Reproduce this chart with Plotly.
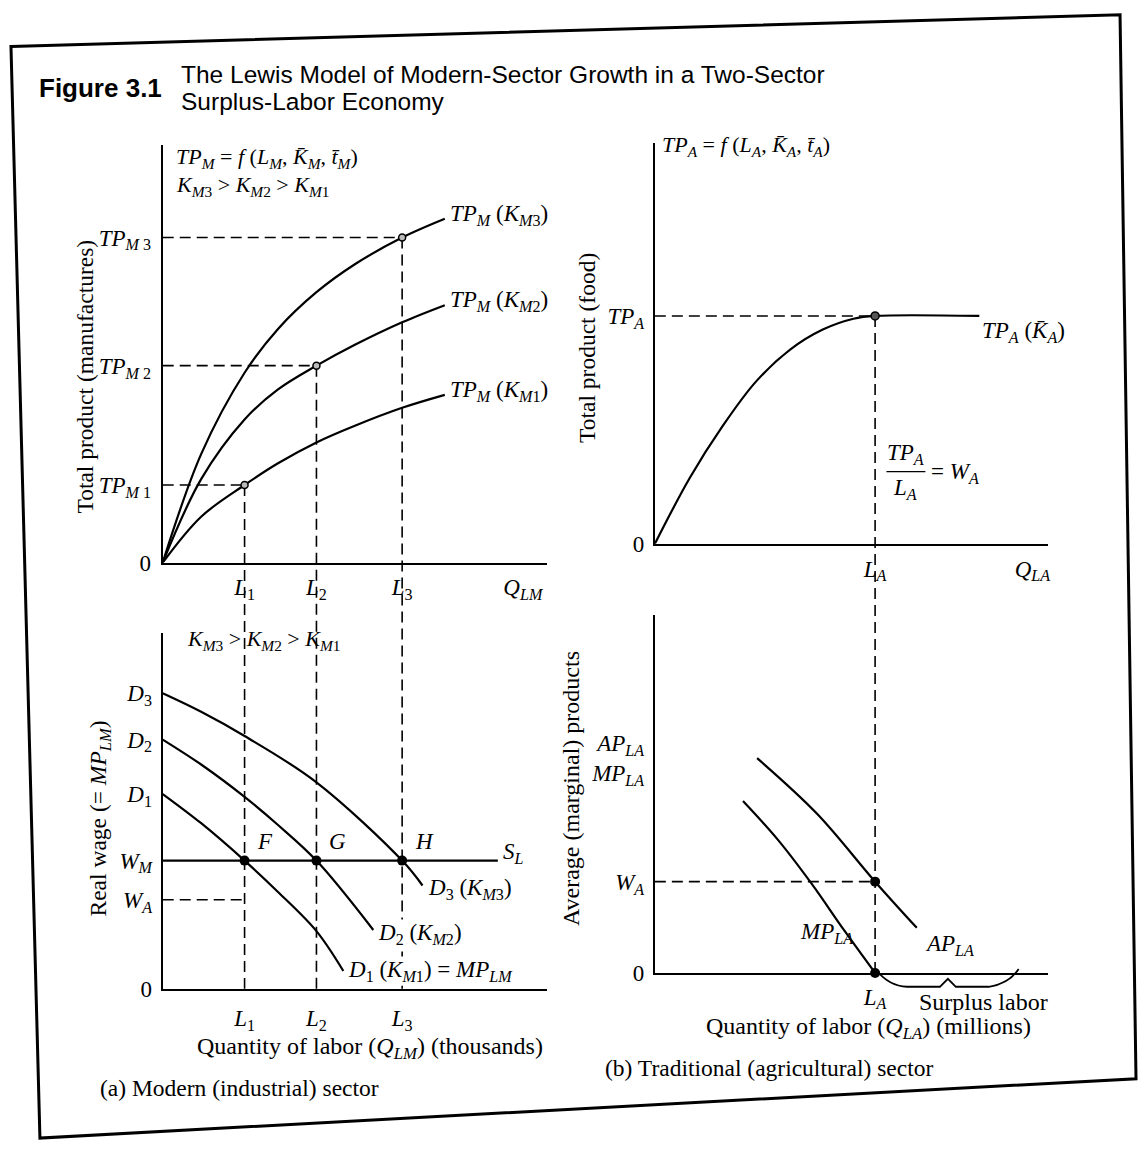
import plotly.graph_objects as go

W, H = 1142, 1155
SERIF = "Liberation Serif"
SANS = "Liberation Sans"

def px(x):
    return x / W

def py(y):
    return 1 - y / H

# ---------------- data ----------------
# (a) top: total product of manufactures for three capital stocks
L_M = [2.13, 4.0, 6.23]                    # L1, L2, L3
L_M_labels = ["<i>L</i><sub>1</sub>", "<i>L</i><sub>2</sub>", "<i>L</i><sub>3</sub>"]
TP_M_levels = [1.86, 4.72, 7.79]           # TP_M1, TP_M2, TP_M3
TP_M_labels = ["<i>TP</i><sub><i>M</i> 1</sub>", "<i>TP</i><sub><i>M</i> 2</sub>", "<i>TP</i><sub><i>M</i> 3</sub>"]
Q_LM_pos = 9.37

tp_k1_x = [0, 1.0, 2.13, 3.0, 4.0, 5.0, 6.23, 7.34]
tp_k1_y = [0, 1.1, 1.86, 2.38, 2.88, 3.28, 3.71, 4.02]
tp_k2_x = [0, 1.0, 2.13, 3.0, 4.0, 5.0, 6.23, 7.34]
tp_k2_y = [0, 2.0, 3.43, 4.15, 4.72, 5.22, 5.76, 6.17]
tp_k3_x = [0, 1.0, 2.13, 3.0, 4.0, 5.0, 6.23, 7.34]
tp_k3_y = [0, 2.6, 4.55, 5.6, 6.48, 7.15, 7.79, 8.24]

# (a) bottom: labour demand curves and wages
d3_x = [0, 1.0, 2.13, 4.0, 6.23, 6.76]
d3_y = [8.3, 7.78, 7.1, 5.8, 3.6, 2.9]
d2_x = [0, 1.0, 2.13, 3.0, 4.0, 5.48]
d2_y = [7.0, 6.3, 5.39, 4.6, 3.6, 1.65]
d1_x = [0, 1.0, 2.13, 3.0, 4.0, 4.7]
d1_y = [5.47, 4.65, 3.6, 2.72, 1.62, 0.5]
W_M = 3.6
W_A_left = 2.5
S_L_end = 8.72

# (b) top: total product of food
L_A = 5.6
TP_A = 5.69
Q_LA_pos = 9.6
ta_x = [0, 0.89, 1.73, 2.57, 3.44, 4.27, 5.05, 5.6, 8.25]
ta_y = [0, 1.65, 2.95, 4.05, 4.85, 5.35, 5.62, 5.69, 5.69]

# (b) bottom: average and marginal products
ap_x = [2.6, 4.13, 5.6, 6.66]
ap_y = [6.0, 4.44, 2.55, 1.26]
mp_x = [2.24, 3.12, 3.98, 4.82, 5.6]
mp_y = [4.8, 3.73, 2.5, 1.18, 0]
W_A_right = 2.55
APMP_label_pos = 6.0
surplus_end = 9.25

# ---------------- layout geometry (reference pixels) ----------------
TL = dict(x=(163, 548), y=(569, 147))
BL = dict(x=(163, 548), y=(1000, 640))
TR = dict(x=(656, 1050), y=(550, 145))
BR = dict(x=(656, 1050), y=(984, 622))
RNG = [0, 10]

def val_to_py(v, panel):
    y0, y1 = panel["y"]
    return py(y0 + (v - RNG[0]) / (RNG[1] - RNG[0]) * (y1 - y0))

def val_to_px(v, panel):
    x0, x1 = panel["x"]
    return x0 + (v - RNG[0]) / (RNG[1] - RNG[0]) * (x1 - x0)

fig = go.Figure()

CURVE = dict(color="black", width=2.2)
DASH = dict(color="black", width=1.6, dash="11px,6px")

def line(x, y, ax, style=CURVE, shape="spline"):
    ln = dict(**style, shape=shape)
    if shape == "spline":
        ln["smoothing"] = 1.0
    fig.add_trace(go.Scatter(x=x, y=y, mode="lines", line=ln,
                             xaxis=ax[0], yaxis=ax[1], hoverinfo="skip", showlegend=False))

def dots(x, y, ax, size=9, fill="black", lw=0):
    fig.add_trace(go.Scatter(x=x, y=y, mode="markers", cliponaxis=False,
                             marker=dict(size=size, color=fill, line=dict(color="black", width=lw)),
                             xaxis=ax[0], yaxis=ax[1], hoverinfo="skip", showlegend=False))

# ---- panel (a) top
A1 = ("x", "y")
for lv, lx in zip(TP_M_levels, L_M):
    line([0, lx], [lv, lv], A1, DASH, "linear")
line(tp_k1_x, tp_k1_y, A1)
line(tp_k2_x, tp_k2_y, A1)
line(tp_k3_x, tp_k3_y, A1)
dots(L_M, TP_M_levels, A1, size=7, fill="#bbbbbb", lw=1.5)

# ---- panel (a) bottom
A2 = ("x2", "y2")
line([0, L_M[0]], [W_A_left, W_A_left], A2, DASH, "linear")
line([0, S_L_end], [W_M, W_M], A2, CURVE, "linear")
line(d3_x, d3_y, A2)
line(d2_x, d2_y, A2)
line(d1_x, d1_y, A2)
dots(L_M, [W_M] * 3, A2, size=10)

# ---- panel (b) top
B1 = ("x3", "y3")
line([0, L_A], [TP_A, TP_A], B1, DASH, "linear")
line(ta_x, ta_y, B1)
dots([L_A], [TP_A], B1, size=8, fill="#555555", lw=1.5)

# ---- panel (b) bottom
B2 = ("x4", "y4")
line([0, L_A], [W_A_right, W_A_right], B2, DASH, "linear")
line(ap_x, ap_y, B2)
line(mp_x, mp_y, B2)
dots([L_A, L_A], [W_A_right, 0], B2, size=10)

# ---------------- axes ----------------
TICKFONT = dict(family=SERIF, size=23, color="black")

def axis(domain, anchor, tickvals, ticktext, standoff=5):
    return dict(domain=domain, anchor=anchor, range=RNG, showline=True, linecolor="black",
                linewidth=2.2, showgrid=False, zeroline=False, ticks="", tickvals=tickvals,
                ticktext=ticktext, tickfont=TICKFONT, fixedrange=True, ticklabelstandoff=standoff)

fig.update_layout(
    xaxis=axis([px(TL["x"][0]), px(TL["x"][1])], "y", L_M + [Q_LM_pos],
               L_M_labels + ["<i>Q</i><sub><i>LM</i></sub>"], 3),
    yaxis=axis([py(TL["y"][0]), py(TL["y"][1])], "x", [0] + TP_M_levels, ["0"] + TP_M_labels, 5),
    xaxis2=axis([px(BL["x"][0]), px(BL["x"][1])], "y2", L_M, L_M_labels, 8),
    yaxis2=axis([py(BL["y"][0]), py(BL["y"][1])], "x2",
                [0, W_A_left, W_M, d1_y[0], d2_y[0], d3_y[0]],
                ["0", "<i>W</i><sub><i>A</i></sub>", "<i>W</i><sub><i>M</i></sub>",
                 "<i>D</i><sub>1</sub>", "<i>D</i><sub>2</sub>", "<i>D</i><sub>3</sub>"], 4),
    xaxis3=axis([px(TR["x"][0]), px(TR["x"][1])], "y3", [L_A, Q_LA_pos],
                ["<i>L</i><sub><i>A</i></sub>", "<i>Q</i><sub><i>LA</i></sub>"], 3),
    yaxis3=axis([py(TR["y"][0]), py(TR["y"][1])], "x3", [0, TP_A],
                ["0", "<i>TP</i><sub><i>A</i></sub>"], 4),
    xaxis4=axis([px(BR["x"][0]), px(BR["x"][1])], "y4", [L_A], ["<i>L</i><sub><i>A</i></sub>"], 2),
    yaxis4=axis([py(BR["y"][0]), py(BR["y"][1])], "x4", [0, W_A_right, APMP_label_pos],
                ["0", "<i>W</i><sub><i>A</i></sub>",
                 "<i>AP</i><sub><i>LA</i></sub><br><i>MP</i><sub><i>LA</i></sub>"], 4),
)

# ---------------- shapes ----------------
shapes = []
# vertical dashed connectors running from the top panels down into the bottom panels
for lx, lv in zip(L_M, TP_M_levels):
    shapes.append(dict(type="line", xref="x", yref="paper", x0=lx, x1=lx,
                       y0=val_to_py(lv, TL), y1=val_to_py(0, BL), line=DASH, layer="below"))
shapes.append(dict(type="line", xref="x3", yref="paper", x0=L_A, x1=L_A,
                   y0=val_to_py(TP_A, TR), y1=val_to_py(0, BR), line=DASH, layer="below"))

# fraction bar for TP_A / L_A
shapes.append(dict(type="line", xref="paper", yref="paper", x0=px(888), x1=px(927),
                   y0=py(477), y1=py(477), line=dict(color="black", width=1.3)))

# surplus labour brace under the axis
bx0 = val_to_px(L_A, BR) + 2
bx1 = val_to_px(surplus_end, BR)
bm = (bx0 + bx1) / 2
pts = [(bx0, 982), (bx0 + 12, 997), (bx0 + 30, 998), (bm - 8, 998), (bm, 990),
       (bm + 8, 998), (bx1 - 30, 998), (bx1 - 10, 995), (bx1, 980)]
path = "M {:.5f},{:.5f} Q {:.5f},{:.5f} {:.5f},{:.5f} L {:.5f},{:.5f} L {:.5f},{:.5f} L {:.5f},{:.5f} L {:.5f},{:.5f} Q {:.5f},{:.5f} {:.5f},{:.5f}".format(
    px(pts[0][0]), py(pts[0][1]), px(pts[1][0]), py(pts[1][1]), px(pts[2][0]), py(pts[2][1]),
    px(pts[3][0]), py(pts[3][1]), px(pts[4][0]), py(pts[4][1]), px(pts[5][0]), py(pts[5][1]),
    px(pts[6][0]), py(pts[6][1]), px(pts[7][0]), py(pts[7][1]), px(pts[8][0]), py(pts[8][1]))
shapes.append(dict(type="path", xref="paper", yref="paper", path=path,
                   line=dict(color="black", width=1.8)))

# page frame (scanned page is slightly skewed)
frame = [(11, 47), (1122, 15), (1138, 1091), (40, 1151)]
fpath = "M " + " L ".join("{:.5f},{:.5f}".format(px(a), py(b)) for a, b in frame) + " Z"
shapes.append(dict(type="path", xref="paper", yref="paper", path=fpath,
                   line=dict(color="black", width=3)))

fig.update_layout(shapes=shapes)

# ---------------- annotations ----------------
ann = []

def note(text, x, y, xanchor="left", yanchor="middle", size=23, family=SERIF, angle=0,
         xref="paper", yref="paper", align="left", bg=None):
    if xref == "paper":
        x = px(x)
    if yref == "paper":
        y = py(y)
    d = dict(text=text, x=x, y=y, xref=xref, yref=yref, xanchor=xanchor,
             yanchor=yanchor, showarrow=False, textangle=angle, align=align,
             font=dict(family=family, size=size, color="black"), borderpad=0)
    if bg:
        d["bgcolor"] = bg
    ann.append(d)

# title
note("<b>Figure 3.1</b>", 38, 89, size=26, family=SANS)
note("The Lewis Model of Modern-Sector Growth in a Two-Sector", 180, 75, size=24.5, family=SANS)
note("Surplus-Labor Economy", 180, 103, size=24.5, family=SANS)

KB = "K\u0304"
TB = "t\u0304"
# panel (a) top
note("<i>TP</i><sub><i>M</i></sub> = <i>f</i> (<i>L</i><sub><i>M</i></sub>, <i>" + KB +
     "</i><sub><i>M</i></sub>, <i>" + TB + "</i><sub><i>M</i></sub>)", 175, 160, size=22)
note("<i>K</i><sub><i>M</i>3</sub> > <i>K</i><sub><i>M</i>2</sub> > <i>K</i><sub><i>M</i>1</sub>",
     175, 188, size=22)
note("<i>TP</i><sub><i>M</i></sub> (<i>K</i><sub><i>M</i>3</sub>)", tp_k3_x[-1] + 0.12, tp_k3_y[-1] + 0.1,
     xref="x", yref="y")
note("<i>TP</i><sub><i>M</i></sub> (<i>K</i><sub><i>M</i>2</sub>)", tp_k2_x[-1] + 0.12, tp_k2_y[-1] + 0.1,
     xref="x", yref="y")
note("<i>TP</i><sub><i>M</i></sub> (<i>K</i><sub><i>M</i>1</sub>)", tp_k1_x[-1] + 0.12, tp_k1_y[-1] + 0.1,
     xref="x", yref="y")
note("Total product (manufactures)", 85, 381, xanchor="center", angle=-90, size=23.5)

# panel (a) bottom
note("<i>K</i><sub><i>M</i>3</sub> > <i>K</i><sub><i>M</i>2</sub> > <i>K</i><sub><i>M</i>1</sub>",
     186, 647, size=22)
for lab, lx in zip(["F", "G", "H"], L_M):
    note("<i>" + lab + "</i>", lx + 0.3, W_M + 0.55, xref="x2", yref="y2")
note("<i>S</i><sub><i>L</i></sub>", S_L_end + 0.12, W_M + 0.2, xref="x2", yref="y2")
note("<i>D</i><sub>3</sub> (<i>K</i><sub><i>M</i>3</sub>)", d3_x[-1] + 0.12, d3_y[-1] - 0.1,
     xref="x2", yref="y2", bg="white")
note("<i>D</i><sub>2</sub> (<i>K</i><sub><i>M</i>2</sub>)", d2_x[-1] + 0.1, d2_y[-1] - 0.1,
     xref="x2", yref="y2", bg="white")
note("<i>D</i><sub>1</sub> (<i>K</i><sub><i>M</i>1</sub>) = <i>MP</i><sub><i>LM</i></sub>",
     d1_x[-1] + 0.1, d1_y[-1], xref="x2", yref="y2", bg="white")
note("Real wage (= <i>MP</i><sub><i>LM</i></sub>)", 100, 828, xanchor="center", angle=-90, size=23.5)
note("Quantity of labor (<i>Q</i><sub><i>LM</i></sub>) (thousands)", 371, 1060, xanchor="center", size=24)
note("(a) Modern (industrial) sector", 240, 1100, xanchor="center", size=23.5)

# panel (b) top
note("<i>TP</i><sub><i>A</i></sub> = <i>f</i> (<i>L</i><sub><i>A</i></sub>, <i>" + KB +
     "</i><sub><i>A</i></sub>, <i>" + TB + "</i><sub><i>A</i></sub>)", 662, 148, size=22)
note("<i>TP</i><sub><i>A</i></sub> (<i>" + KB + "</i><sub><i>A</i></sub>)", ta_x[-1] + 0.05, TP_A - 0.4,
     xref="x3", yref="y3")
note("<i>TP</i><sub><i>A</i></sub>", 907, 459, xanchor="center", size=23)
note("<i>L</i><sub><i>A</i></sub>", 907, 495, xanchor="center", size=23)
note("= <i>W</i><sub><i>A</i></sub>", 932, 478, size=23)
note("Total product (food)", 588, 352, xanchor="center", angle=-90, size=23.5)

# panel (b) bottom
note("<i>MP</i><sub><i>LA</i></sub>", 828, 944, xanchor="center")
note("<i>AP</i><sub><i>LA</i></sub>", 951, 956, xanchor="center")
note("Surplus labor", 985, 1013, xanchor="center", size=24)
note("Average (marginal) products", 572, 797, xanchor="center", angle=-90, size=24)
note("Quantity of labor (<i>Q</i><sub><i>LA</i></sub>) (millions)", 870, 1040, xanchor="center", size=24)
note("(b) Traditional (agricultural) sector", 770, 1080, xanchor="center", size=23.5)

fig.update_layout(
    annotations=ann,
    width=W, height=H,
    margin=dict(l=0, r=0, t=0, b=0),
    paper_bgcolor="white", plot_bgcolor="white",
    font=dict(family=SERIF, color="black"),
    showlegend=False,
)

# remove the default body margin so the figure fills the 1142x1155 window exactly
fig.write_html("out.html", config={"displayModeBar": False},
               post_script="document.body.style.margin='0';document.documentElement.style.overflow='hidden';")
